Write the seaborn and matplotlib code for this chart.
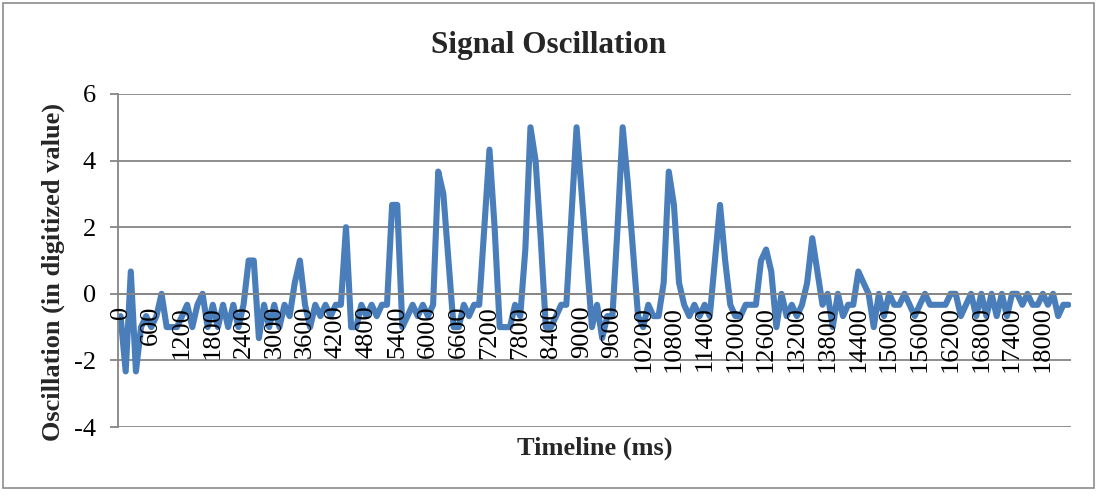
import numpy as np
import pandas as pd
import matplotlib
matplotlib.use("Agg")
import matplotlib.pyplot as plt
import matplotlib.transforms as mtransforms
from matplotlib.patches import Rectangle
import seaborn as sns

# ---- data (digitized oscillation, one sample every 100 ms) ----
osc_0000_3000 = [-0.67, -2.33, 0.67, -2.33, -1, -0.67, -1, -0.67, 0, -1,
                 -1, -1, -0.67, -0.33, -1, -0.33, 0, -1, -0.33, -1,
                 -0.33, -1, -0.33, -1, -0.33, 1, 1, -1.33, -0.33, -1]
osc_3000_6000 = [-0.33, -1, -0.33, -0.67, 0.33, 1, -0.33, -1, -0.33, -0.67,
                 -0.33, -0.67, -0.33, -0.33, 2, -1, -1, -0.33, -0.67, -0.33,
                 -0.67, -0.33, -0.33, 2.67, 2.67, -1, -0.67, -0.33, -0.67, -0.33]
osc_6000_9000 = [-0.67, -0.33, 3.67, 3, 1, -1, -1, -0.33, -0.67, -0.33,
                 -0.33, 2, 4.33, 2, -1, -1, -1, -0.33, -0.67, 1.33,
                 5, 4, 1.67, -1, -1, -0.67, -0.33, -0.33, 2.33, 5]
osc_9000_12000 = [3, 1, -1, -0.33, -1.33, -0.67, -0.67, 2, 5, 3.33,
                  1.33, -0.67, -1, -0.33, -0.67, -0.67, 0.33, 3.67, 2.67, 0.33,
                  -0.33, -0.67, -0.33, -0.67, -0.33, -0.67, 1, 2.67, 1, -0.33]
osc_12000_15000 = [-0.67, -0.67, -0.33, -0.33, -0.33, 1, 1.33, 0.67, -1, 0,
                   -0.67, -0.33, -0.67, -0.33, 0.33, 1.67, 0.67, -0.33, 0, -1,
                   0, -0.67, -0.33, -0.33, 0.67, 0.33, 0, -1, 0, -0.67]
osc_15000_18500 = [0, -0.33, -0.33, 0, -0.33, -0.67, -0.33, 0, -0.33, -0.33,
                   -0.33, -0.33, 0, 0, -0.67, -0.33, 0, -0.67, 0, -0.67,
                   0, -0.67, 0, -0.67, 0, 0, -0.33, 0, -0.33, -0.33,
                   0, -0.33, 0, -0.67, -0.33, -0.33]

values = (osc_0000_3000 + osc_3000_6000 + osc_6000_9000 +
          osc_9000_12000 + osc_12000_15000 + osc_15000_18500)
timeline_ms = np.arange(0, 100 * len(values), 100)
tick_values = np.arange(0, 18001, 600)
tick_labels = [str(t) for t in tick_values]
y_ticks = [-4, -2, 0, 2, 4, 6]

title_text = "Signal Oscillation"
xlabel_text = "Timeline (ms)"
ylabel_text = "Oscillation (in digitized value)"

df = pd.DataFrame({"time": timeline_ms, "value": values})

# ---- style ----
sns.set_style("white")
plt.rcParams["font.family"] = ["Liberation Serif", "DejaVu Serif"]

W, H = 1098, 496
fig = plt.figure(figsize=(W / 100, H / 100), dpi=100)
fig.patch.set_facecolor("white")

left_px, right_px, top_px, bottom_px = 118, 1071, 94, 427
ax = fig.add_axes([left_px / W, 1 - bottom_px / H,
                   (right_px - left_px) / W, (bottom_px - top_px) / H])

grid_col = "#868686"
line_col = "#4A7EBB"

sns.lineplot(data=df, x="time", y="value", ax=ax, color=line_col,
             linewidth=4.4, solid_joinstyle="round", solid_capstyle="round",
             zorder=2)

ax.set_xlim(-50, 18550)
ax.set_ylim(-4, 6)
ax.set_yticks(y_ticks)
ax.set_yticklabels([str(v) for v in y_ticks])
ax.set_xticks(tick_values)

ax.set_xlabel("")
ax.set_ylabel("")

ax.set_axisbelow(True)
ax.yaxis.grid(True, color=grid_col, linewidth=1.3)
ax.xaxis.grid(False)

for s in ["top", "right"]:
    ax.spines[s].set_visible(False)
ax.spines["bottom"].set_position(("data", 0))
ax.spines["bottom"].set_color(grid_col)
ax.spines["bottom"].set_linewidth(1.3)
ax.spines["left"].set_color(grid_col)
ax.spines["left"].set_linewidth(1.3)

ax.tick_params(axis="x", length=0, labelbottom=False)
ax.tick_params(axis="y", length=6, width=1.3, color=grid_col, pad=10,
               labelsize=19, labelcolor="black", left=True)

# category labels drawn on top of the line, hanging below the zero axis
lab_trans = mtransforms.offset_copy(ax.transData, fig=fig, x=0, y=-12,
                                    units="dots")
for t, lab in zip(tick_values, tick_labels):
    ax.text(t, 0, lab, transform=lab_trans, rotation=90, ha="center",
            va="top", fontsize=19, color="black", zorder=5, clip_on=False)

# titles / labels
fig.text(0.5, 1 - 45 / H, title_text, ha="center", va="center",
         fontsize=22.5, fontweight="bold")
fig.text((left_px + right_px) / 2 / W, 1 - 448 / H, xlabel_text,
         ha="center", va="center", fontsize=19, fontweight="bold")
fig.text(53 / W, 1 - 272 / H, ylabel_text, ha="center", va="center",
         rotation=90, fontsize=19, fontweight="bold")

# outer chart border
fig.patches.append(Rectangle((3 / W, 8 / H), (1094 - 3) / W, (488 - 3) / H,
                             transform=fig.transFigure, fill=False,
                             edgecolor="#8C8C8C", linewidth=1.2))

fig.savefig("out.png", dpi=100)
